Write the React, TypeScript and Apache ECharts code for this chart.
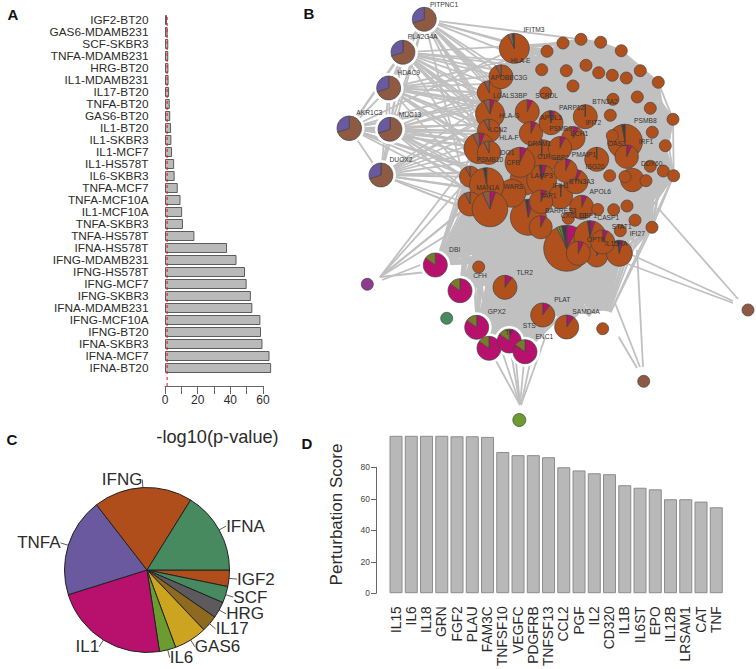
import React, { useEffect, useRef } from "react";
import * as echarts from "echarts";

const FONT = "Liberation Sans, Arial, sans-serif";
const INK = "#2b2b2b";

// Panel A
const enrichNames = ["IGF2-BT20","GAS6-MDAMB231","SCF-SKBR3","TNFA-MDAMB231","HRG-BT20","IL1-MDAMB231","IL17-BT20","TNFA-BT20","GAS6-BT20","IL1-BT20","IL1-SKBR3","IL1-MCF7","IL1-HS578T","IL6-SKBR3","TNFA-MCF7","TNFA-MCF10A","IL1-MCF10A","TNFA-SKBR3","TNFA-HS578T","IFNA-HS578T","IFNG-MDAMB231","IFNG-HS578T","IFNG-MCF7","IFNG-SKBR3","IFNA-MDAMB231","IFNG-MCF10A","IFNG-BT20","IFNA-SKBR3","IFNA-MCF7","IFNA-BT20"];
const enrichValues = [1.2,1.6,2,2,2.1,2.2,2.5,2.9,3.2,3.7,3.9,4.3,5.6,5.9,7.8,9.5,10.5,11,18,38,43.8,49,50,52.6,53.5,58.4,58.8,59.7,64,65];
const threshold = 1.3;

// Panel C
const pieNames = ["IGF2","SCF","HRG","IL17","GAS6","IL6","IL1","TNFA","IFNG","IFNA"];
const pieCounts = [1,1,1,1,2,1,7,6,6,5];
const pieColors = ["#AF4D1B","#478A60","#5C5A5C","#8E6A20","#CDA41F","#6C9C2F","#B8106D","#6A599F","#AF4D1B","#478A60"];

// Panel D
const scoreNames = ["IL15","IL6","IL18","GRN","FGF2","PLAU","FAM3C","TNFSF10","VEGFC","PDGFRB","TNFSF13","CCL2","PGF","IL2","CD320","IL1B","IL6ST","EPO","IL12B","LRSAM1","CAT","TNF"];
const scoreValues = [100,100,100,100,99.7,99.7,99.3,89.7,87.7,87.7,86.4,80,78,76.2,75.6,68.6,67,66,59.7,59.7,58.2,54.6];

// Panel B colours and pie compositions (clockwise from 12 o'clock)
const C: Record<string,string> = { orange:"#B0501C", brown:"#8E5A44", purple:"#6A599F", magenta:"#B8106D", olive:"#7A7A2A", dark:"#3C3C44", green:"#478A60", lime:"#6C9C2F", violet:"#8E3A8E" };
const kinds: Record<string,[string,number][]> = {
  o:[["orange",1]], v:[["violet",1]], n:[["green",1]], w:[["lime",1]], r:[["brown",1]],
  p:[["brown",.7],["purple",.3]],
  m:[["magenta",.85],["olive",.15]],
  a:[["magenta",.07],["orange",.93]],
  l:[["magenta",.1],["orange",.9]],
  b:[["orange",.93],["brown",.07]],
  c:[["magenta",.05],["orange",.88],["brown",.07]],
  s:[["orange",.998],["dark",.002]],
  e:[["magenta",.05],["orange",.925],["dark",.025]],
  k:[["orange",.97],["dark",.03]],
  i:[["orange",.93],["brown",.05],["dark",.02]],
  g:[["magenta",.08],["orange",.85],["lime",.015],["olive",.02],["dark",.035]],
};

// Nodes: x, y, radius, composition; later rows sit on top
type N = [number,number,number,string];
const coreNodes: N[] = [
  [566.7,248.3,23,"g"],[528.3,217.3,18,"e"],[625,141.7,17.5,"k"],[541.7,156.7,17,"s"],
  [525,180,15,"o"],[511.7,193.3,14,"o"],[541.7,180,15,"e"],[560.7,196.7,12,"s"],
  [470,176.7,10.5,"b"],[486.7,185,17.3,"k"],[470,204,12,"b"],[490,209,17.8,"c"],
  [514.3,48.3,15,"i"],[489.3,92.7,12,"b"],[501,76.7,12,"b"],[490,114,14.5,"c"],[489,130.7,11.5,"b"],
  [479.3,148.3,15.3,"c"],[489,152.7,11.7,"b"],[520,162.3,15,"a"],[527.3,111.7,12,"a"],
  [531,133.3,11.7,"a"],[551,122.7,12,"e"],[585.3,116.7,12,"s"],[573.3,138.3,11.7,"a"],[560,148.3,11.7,"a"],
  [596.7,159.3,12,"s"],[626.7,156.7,11.7,"a"],[612.3,135.7,6,"o"],[576,181.7,12,"a"],[565.7,170.7,11.7,"a"],
  [541,201.7,11.7,"a"],[581.7,207.3,12,"a"],[632.3,180,11.7,"o"],[625,176.7,6,"o"],[646,180.7,6,"o"],
  [590,236.7,16,"e"],[596.7,256,11,"a"],[619.3,253.3,13,"e"],[602.7,242,12,"a"],[578.3,253.3,12,"a"],[540.7,227.3,11.5,"a"],
  [568.3,218.3,6,"o"],[547,51.3,6,"o"],[563,43,6,"o"],[581,39.3,6,"o"],[600.7,42.3,6,"o"],[621.3,50.7,6,"o"],
  [541.7,69.7,6,"o"],[566.3,70.7,6,"o"],[586,65.3,6,"o"],[598.7,72.7,6,"o"],[612.3,75.3,6,"o"],[626.3,78,6,"o"],
  [640.3,70.7,6,"o"],[658.3,82.3,6,"o"],[573,86,6,"o"],[545.7,93,6,"o"],[613,99.3,6,"o"],[637.3,97,6,"o"],
  [650.3,108.3,6,"o"],[610.3,115.3,6,"o"],[673,119.3,6,"o"],[652.3,132.3,6,"o"],[665.3,145.7,6,"o"],
  [650.3,166.3,6,"o"],[663.3,171,6,"o"],[673.7,175.7,6,"o"],[609.7,175.7,6,"o"],[597.7,209.5,6,"o"],
  [613.7,209.7,6,"o"],[627,206,6,"o"],[635,220.2,6,"o"],[620.3,230.7,6,"o"],[652,227.3,6,"o"],
];
const leftNodes: N[] = [
  [424.3,19.3,12,"p"],[403,52.3,12,"p"],[388.7,88,12,"p"],[349.3,128.3,12.3,"p"],[390,129.3,12,"p"],[381,175,12,"p"],
];
const lowerNodes: N[] = [
  [435.3,265,12,"m"],[460,290.7,12,"m"],[476.7,327.3,12,"m"],[489,348.3,12,"m"],[509.3,341,12,"m"],[525,351.7,12,"m"],
  [478.7,267,6,"o"],[505,287.3,12,"l"],[542.7,315,12,"l"],[566.7,327,12,"l"],[602.7,328.7,6,"o"],
];
const outerNodes: N[] = [
  [367.3,284.3,6,"v"],[446.7,318.3,6,"n"],[519.3,420,6.5,"w"],[748,310,6,"r"],[643.7,381.3,6,"r"],
];
const allNodes: N[] = [...coreNodes, ...leftNodes, ...lowerNodes, ...outerNodes];

// Edges of the outlying nodes that stop short of the node: x1, y1, x2, y2
const outerEdges: [number,number,number,number][] = [
  [380,277,472,175],[380,277,470,204],[380,277,482,195],[380,277,490,208],[380,277,479,148],[380,277,427,272],[382,280,428,262],
  [520,405,489,348],[520,405,509,341],[520,405,525,351],[520,405,500,345],[521,405,545,338],[521,405,535,340],[520,405,515,350],
  [733,303,628,264],[733,301,632,255],[738,299,658,208],
  [637,368,607,317],[640,367,615,303],[643,367,637,250],
];

// Gene labels: name, x, y
const geneLabels: [string,number,number][] = [
  ["PITPNC1",444,4],["PLA2G4A",422.7,36.7],["HDAC9",408.7,72.7],["AKR1C3",369.3,112.3],["MUC13",410,114],["DUOX2",401,159.3],
  ["IFITM3",534,29.3],["HLA-E",520.7,60.7],["APOBEC3G",509,77.3],["LGALS3BP",510,95.7],["SCRDL",546.7,95.7],["HLA-G",509.3,115],
  ["LCN2",498.3,129],["HLA-F",509,137],["IDO1",506.7,152.7],["CFB",513.3,162.3],["PSMB10",490,159],["MAN1A",487.7,187.3],["WARS",513.3,186.7],
  ["PARP12",571.7,107.7],["BTN3A2",605,101.3],["APOL3",551,117.3],["PSMB8",645.3,120.7],["PSMB9",560.7,128.7],["ECH1",579.3,133.3],
  ["IFIT2",593.3,122.7],["OAS3",616.7,143.3],["IRF1",646,141],["DRAM1",539.3,143.3],["C1R",544,156.7],["GBP2",560,157.3],
  ["PMAIP1",584,154.3],["ISG20",595,166],["DDX60",651.7,163.7],["LAMP3",541.7,175.7],["BTN3A3",581.7,181.7],["IFIH1",560.7,185],
  ["APOL6",600.3,191.7],["TAP1",548.3,195],["BARRES3",560.7,210],["CXCL10",573.3,215],["GBP1",588,215.7],["CASP1",608.3,217.3],
  ["STAT1",621.7,226.7],["IFI27",637.3,233.3],["OPTN",596,239],["IL15RA",616,243.3],["SAMD4A",586,311.7],["PLAT",562.3,299],
  ["TLR2",524.7,272],["STS",529.3,325.7],["ENC1",544.3,336.3],["GPX2",496.7,311.7],["TF",509.3,332.3],["DBI",454.7,249.3],["CFH",480,275.3],
];

const panelLetters: [string,number,number][] = [["A",13,14],["B",309,13],["C",12,439],["D",307,443]];

// Edges follow the membership of the node groups
const toLine = (a: number[], b: number[]) => ({ coords: [[a[0],a[1]],[b[0],b[1]]] });
const edgeData: { coords: number[][] }[] = [];
coreNodes.forEach((a, i) => coreNodes.forEach((b, j) => { if (j > i) edgeData.push(toLine(a, b)); }));
lowerNodes.forEach((a) => coreNodes.forEach((b) => edgeData.push(toLine(a, b))));
leftNodes.forEach((a, i) => leftNodes.forEach((b, j) => { if (j > i) edgeData.push(toLine(a, b)); }));
leftNodes.forEach((a, i) => coreNodes.forEach((b, j) => { if ((j + i) % 5 === 0) edgeData.push(toLine(a, b)); }));
outerEdges.forEach((e) => edgeData.push({ coords: [[e[0],e[1]],[e[2],e[3]]] }));

const NET = { xAxisIndex: 4, yAxisIndex: 4, coordinateSystem: "cartesian2d" };

function renderNode(params: any, api: any) {
  const n = allNodes[params.dataIndex];
  const p = api.coord([n[0], n[1]]);
  const slices = kinds[n[3]];
  const stroke = { stroke: "#444", lineWidth: 0.7 };
  if (slices.length === 1) {
    return { type: "circle", shape: { cx: p[0], cy: p[1], r: n[2] }, style: { fill: C[slices[0][0]], ...stroke }, silent: true };
  }
  let acc = -Math.PI / 2;
  const children = slices.map(([c, f]) => {
    const s = acc; acc += f * 2 * Math.PI;
    return { type: "sector", shape: { cx: p[0], cy: p[1], r: n[2], r0: 0, startAngle: s, endAngle: acc, clockwise: true }, style: { fill: C[c], ...stroke }, silent: true };
  });
  return { type: "group", children, silent: true };
}

function renderHalo(params: any, api: any) {
  const n = allNodes[params.dataIndex];
  const k = n[3];
  const p = api.coord([n[0], n[1]]);
  const isLast = n === lowerNodes[lowerNodes.length - 1];
  const halo = isLast ? 12 : (k === "p" || k === "m" ? 3 : 0);
  return { type: "circle", shape: { cx: p[0], cy: p[1], r: n[2] + halo }, style: { fill: halo ? "#fff" : "none" }, silent: true };
}

function renderLabel(params: any, api: any) {
  const l = geneLabels[params.dataIndex];
  const p = api.coord([l[1], l[2]]);
  return { type: "text", x: p[0], y: p[1], style: { text: l[0], fontFamily: FONT, fontSize: 6.7, fill: "#333", align: "center", verticalAlign: "middle" }, silent: true };
}

export default function App() {
  const ref = useRef<HTMLDivElement>(null);
  useEffect(() => {
    document.body.style.margin = "0";
    const chart = echarts.init(ref.current!, undefined, { renderer: "svg" });
    const hidden = { show: false };
    chart.setOption({
      animation: false,
      backgroundColor: "#fff",
      textStyle: { fontFamily: FONT },
      grid: [
        { left: 165, top: 14, width: 114.3, height: 360 },
        { left: 165, top: 15, width: 98, height: 371 },
        { left: 388.4, top: 435.8, width: 335.5, height: 157.5 },
        { left: 376, top: 467.3, width: 10, height: 126 },
        { left: 0, top: 0, width: 756, height: 669 },
      ],
      xAxis: [
        { gridIndex: 0, type: "value", min: 0, max: 70, ...hidden },
        { gridIndex: 1, type: "value", min: 0, max: 60, interval: 10, splitLine: hidden,
          axisLine: { show: true, lineStyle: { color: "#666" } },
          axisTick: { show: true, length: 8, lineStyle: { color: "#666" } },
          axisLabel: { customValues: [0, 20, 40, 60], margin: 8, fontSize: 12, color: INK, fontFamily: FONT, hideOverlap: false } },
        { gridIndex: 2, type: "category", data: scoreNames, axisLine: hidden, axisTick: hidden,
          axisLabel: { rotate: 90, interval: 0, margin: 13, fontSize: 13.8, color: INK, fontFamily: FONT } },
        { gridIndex: 3, type: "value", ...hidden },
        { gridIndex: 4, type: "value", min: 0, max: 756, ...hidden },
      ],
      yAxis: [
        { gridIndex: 0, type: "category", inverse: true, data: enrichNames, axisLine: hidden, axisTick: hidden,
          axisLabel: { interval: 0, margin: 16.5, fontSize: 11.8, color: INK, fontFamily: FONT } },
        { gridIndex: 1, type: "value", min: 0, max: 1, ...hidden },
        { gridIndex: 2, type: "value", min: 0, max: 100, splitLine: hidden, axisLine: hidden, axisTick: hidden, axisLabel: hidden,
          name: "Perturbation Score", nameLocation: "middle", nameRotate: 90, nameGap: 43,
          nameTextStyle: { fontSize: 17, color: INK, fontFamily: FONT } },
        { gridIndex: 3, type: "value", min: 0, max: 80, interval: 20, splitLine: hidden,
          axisLine: { show: true, lineStyle: { color: "#666" } },
          axisTick: { show: true, length: 5, lineStyle: { color: "#666" } },
          axisLabel: { margin: 6, fontSize: 8.5, color: "#444", fontFamily: FONT } },
        { gridIndex: 4, type: "value", min: 0, max: 669, inverse: true, ...hidden },
      ],
      series: [
        { type: "lines", ...NET, polyline: false, silent: true, progressive: 0, large: false,
          lineStyle: { color: "#c0c0c0", width: 1.8, opacity: 1 }, data: edgeData, z: 1 },
        { type: "custom", ...NET, renderItem: renderHalo, data: allNodes.map((n) => [n[0], n[1]]), clip: false, silent: true, z: 2 },
        { type: "custom", ...NET, renderItem: renderNode, data: allNodes.map((n) => [n[0], n[1]]), clip: false, silent: true, z: 3 },
        { type: "custom", ...NET, renderItem: renderLabel, data: geneLabels.map((l) => [l[1], l[2]]), clip: false, silent: true, z: 4 },
        { type: "bar", xAxisIndex: 0, yAxisIndex: 0, data: enrichValues, barWidth: 10, silent: true, z: 5,
          itemStyle: { color: "#bababa", borderColor: "#5c5c5c", borderWidth: 1 } },
        { type: "line", xAxisIndex: 1, yAxisIndex: 1, data: [[threshold, 0],[threshold, 1]], symbol: "none", silent: true, z: 6,
          lineStyle: { color: "#e8202c", width: 1.1, type: [3, 3] } },
        { type: "bar", xAxisIndex: 2, yAxisIndex: 2, data: scoreValues, barWidth: 13, silent: true, z: 5,
          itemStyle: { color: "#b8b8b8", borderColor: "#8c8c8c", borderWidth: 1 } },
        { type: "pie", center: [147, 570], radius: 82.5, startAngle: 0, clockwise: true, avoidLabelOverlap: false, silent: true, z: 5,
          data: pieNames.map((name, i) => ({ name, value: pieCounts[i], itemStyle: { color: pieColors[i] } })),
          itemStyle: { borderColor: "#222", borderWidth: 1 },
          labelLayout: { hideOverlap: false, moveOverlap: false },
          label: { show: true, position: "outside", fontSize: 17, color: INK, fontFamily: FONT, distanceToLabelLine: 0, padding: [4, 0, 0, 0], formatter: "{b}" },
          labelLine: { show: true, length: 8, length2: 0, lineStyle: { color: "#333", width: 0.8 } } },
      ],
      graphic: [
        ...panelLetters.map(([t, x, y]) => ({ type: "text", x, y, style: { text: t, fontFamily: FONT, fontSize: 15, fontWeight: "bold", fill: "#111", align: "center", verticalAlign: "middle" } })),
        { type: "text", x: 217.5, y: 437, style: { text: "-log10(p-value)", fontFamily: FONT, fontSize: 18.2, fill: INK, align: "center", verticalAlign: "middle" } },
      ],
    });
    return () => chart.dispose();
  }, []);
  return <div ref={ref} style={{ position: "absolute", left: 0, top: 0, width: 756, height: 669 }} />;
}
